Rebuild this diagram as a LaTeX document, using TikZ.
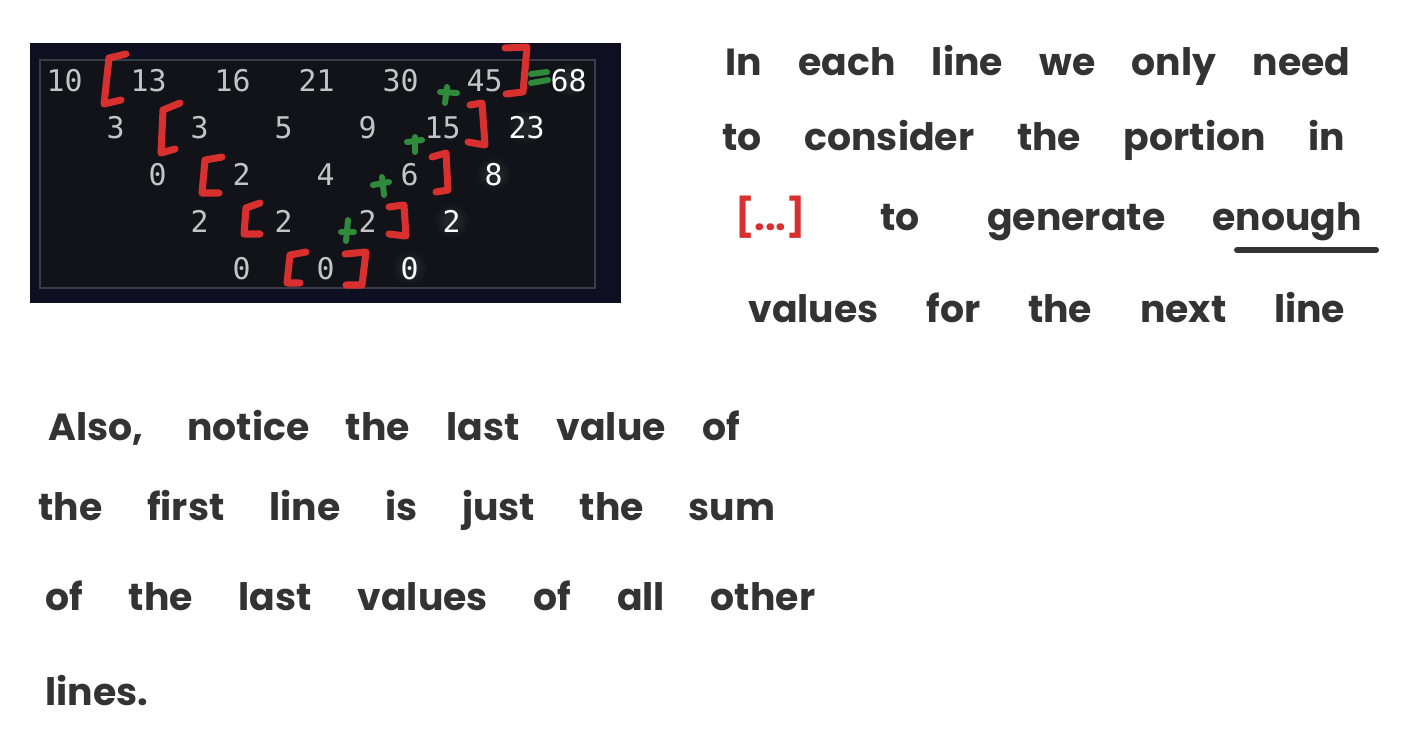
\documentclass[tikz,border=0pt]{standalone}
\usepackage{fontspec}
\setmainfont{Poppins}
\newfontfamily\monofont{DejaVu Sans Mono}
\usetikzlibrary{calc}

\definecolor{panelbg}{HTML}{0E1021}
\definecolor{innerbg}{HTML}{121319}
\definecolor{frameline}{HTML}{3A3C48}
\definecolor{digit}{HTML}{C4C4C6}
\definecolor{bracketred}{HTML}{D8302F}
\definecolor{plusgreen}{HTML}{2F8A3C}
\definecolor{ink}{HTML}{333333}

\tikzset{
  num/.style={anchor=base east, inner sep=0pt, text=digit,
    font=\monofont\fontsize{17}{17}\selectfont},
  lastnum/.style={num, text=white!96!digit},
  glow/.style={fill=white, opacity=0.016},
  bracket/.style={draw=bracketred, line width=4pt, line cap=round, line join=round},
  plus/.style={draw=plusgreen, line width=3.4pt, line cap=round},
  hand/.style={anchor=base west, inner sep=0pt, text=ink,
    font=\bfseries\fontsize{21.5}{25}\selectfont},
}

\begin{document}
\begin{tikzpicture}[x=0.02cm, y=-0.02cm]
    \useasboundingbox (0,0) rectangle (1412,748);

    % dark panel
    \fill[panelbg] (30,43) rectangle (621,303);
    \fill[innerbg] (40,60) rectangle (595,288);
    \draw[frameline, line width=1.2pt] (40,60) rectangle (595,288);

    % difference rows
    \foreach \vals [count=\r from 0] in {{10,13,16,21,30,45},{3,3,5,9,15},{0,2,4,6},{2,2,2},{0,0}}
      \foreach \v [count=\c from 0] in \vals
        \node[num] (n\r\c) at ({83+42*\r+84*\c}, {91+47*\r}) {\v};

    % last column, with soft glow
    \foreach \v/\r/\w in {68/0/2, 23/1/2, 8/2/1, 2/3/1, 0/4/1} {
      \foreach \g in {0.34,0.30,0.26,0.22,0.18,0.14}
        \fill[glow] ({587-42*\r-9*\w}, {80+47*\r}) circle (\g cm);
      \node[lastnum] (last\r) at ({587-42*\r}, {91+47*\r}) {\v};
    }

    % red brackets
    \draw[bracket] (126,54) -- (109,58) -- (104,104) -- (121,100);
    \draw[bracket] (505,48) -- (527,47) -- (523,92) -- (506,94);
    \draw[bracket] (180,103) -- (163,110) -- (161,153) -- (175,149);
    \draw[bracket] (470,105) -- (482,103) -- (485,145) -- (468,142);
    \draw[bracket] (222,157) -- (205,160) -- (202,193) -- (219,193);
    \draw[bracket] (432,157) -- (446,153) -- (448,190) -- (436,192);
    \draw[bracket] (260,203) -- (246,208) -- (244,234) -- (260,234);
    \draw[bracket] (389,207) -- (404,205) -- (406,236) -- (389,234);
    \draw[bracket] (306,252) -- (290,255) -- (287,283) -- (300,283);
    \draw[bracket] (345,254) -- (366,252) -- (362,285) -- (346,285);

    % green plus and equals signs
    \draw[plus] (440,92) -- (457,93) (447,87) -- (445,103);
    \draw[plus] (407,142) -- (422,140) (415,137) -- (415,152);
    \draw[plus] (373,185) -- (389,182) (382,177) -- (384,195);
    \draw[plus] (341,232) -- (354,232) (348,220) -- (346,241);
    \draw[plus] (531,74) -- (547,72) (531,83) -- (548,80);

    % note on the right
    \node[hand] (l1) at (725,75) {\makebox[12.5cm][s]{In each line we only need}};
    \node[hand] (l2) at (722,150) {\makebox[12.46cm][s]{to consider the portion in}};
    \node[hand, text=bracketred] (dots) at (735,230) {[...]};
    \node[hand] (l3) at (880,230) {\makebox[5.7cm][s]{to generate}};
    \node[hand] (enough) at (1212,230) {enough};
    \draw[ink, line width=3.4pt, line cap=round]
      ($(enough.base west)+(25,20)$) -- ($(enough.base east)+(14,20)$);
    \node[hand] (l4) at (748,322) {\makebox[11.94cm][s]{values for the next line}};

    % note below
    \node[hand] (l5) at (48,440) {\makebox[13.84cm][s]{Also, notice the last value of}};
    \node[hand] (l6) at (38,520) {\makebox[14.74cm][s]{the first line is just the sum}};
    \node[hand] (l7) at (45,610) {\makebox[15.4cm][s]{of the last values of all other}};
    \node[hand] (l8) at (45,705) {lines.};
\end{tikzpicture}
\end{document}
